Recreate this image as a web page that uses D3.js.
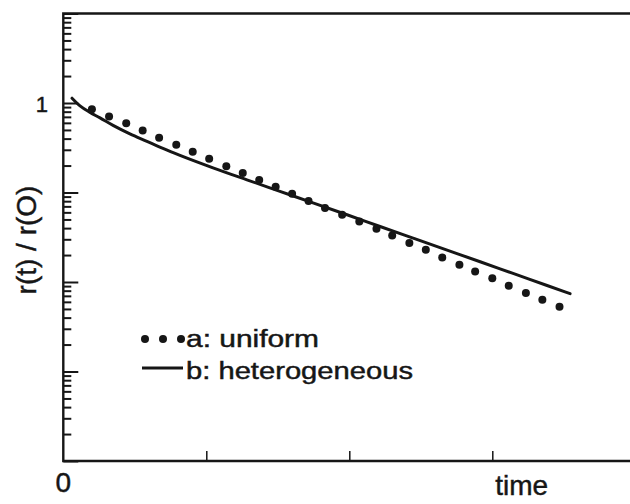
<!DOCTYPE html>
<html>
<head>
<meta charset="utf-8">
<script src="https://cdn.jsdelivr.net/npm/d3@7"></script>
<style>
  html, body { margin: 0; padding: 0; background: #fff; }
  svg { display: block; }
  text { font-family: "Liberation Sans", Arial, Helvetica, sans-serif; fill: #161616; stroke: #161616; stroke-width: 0.45px; }
</style>
</head>
<body>
<div id="chart"></div>
<script>
// series a: uniform (dotted)
const uniformT = [0.20, 0.32, 0.44, 0.555, 0.67, 0.79, 0.905, 1.02, 1.14, 1.255, 1.37, 1.485, 1.60, 1.715,
    1.83, 1.95, 2.07, 2.19, 2.30, 2.42, 2.535, 2.65, 2.77, 2.88, 3.00, 3.115, 3.235, 3.35, 3.47];
const uniformR = [0.853, 0.705, 0.595, 0.492, 0.408, 0.341, 0.285, 0.238, 0.197, 0.165, 0.1375, 0.116, 0.0967, 0.0802,
    0.0671, 0.0564, 0.0475, 0.0393, 0.0331, 0.0272, 0.0229, 0.0188, 0.0156, 0.0131, 0.011, 0.0091, 0.00754, 0.00635, 0.0053];

// series b: heterogeneous (solid)
const heteroT = [0.061, 0.117, 0.187, 0.257, 0.348, 0.466, 0.585, 0.697, 0.816, 1.047, 1.284, 1.515, 1.746,
    1.984, 2.215, 2.446, 2.684, 2.915, 3.145, 3.383, 3.544];
const heteroR = [1.131, 0.928, 0.785, 0.682, 0.562, 0.452, 0.373, 0.311, 0.260, 0.1887, 0.1386, 0.1031, 0.0767,
    0.0564, 0.0417, 0.0309, 0.0227, 0.01685, 0.01247, 0.00914, 0.0074];

const xTicks = [1, 2, 3];
const xLabels = ["0"];
const yLabels = [1];
const legendLabels = ["a: uniform", "b: heterogeneous"];

const W = 630, H = 504;
const ink = "#161616";

const svg = d3.select('#chart').append('svg')
    .attr('width', W)
    .attr('height', H);

const x = d3.scaleLinear().domain([0, 4]).range([63.3, 635.3]);
const y = d3.scaleLog().domain([1e-4, 10]).range([461, 13.5]);

// minor / major log ticks (inward)
const allTicks = y.ticks();
const isMajor = d => Math.abs(Math.log10(d) - Math.round(Math.log10(d))) < 1e-9;

const minorAxis = svg.append('g')
    .attr('transform', `translate(${x(0)},0)`)
    .call(d3.axisRight(y).tickValues(allTicks.filter(d => !isMajor(d))).tickSize(8).tickFormat(''));
const majorAxis = svg.append('g')
    .attr('transform', `translate(${x(0)},0)`)
    .call(d3.axisRight(y).tickValues(allTicks.filter(isMajor)).tickSize(15).tickFormat(''));
[minorAxis, majorAxis].forEach(g => {
    g.select('.domain').remove();
    g.selectAll('line').attr('stroke', ink).attr('stroke-width', 2);
});

const xAxis = svg.append('g')
    .attr('transform', `translate(0,${y(1e-4)})`)
    .call(d3.axisTop(x).tickValues(xTicks).tickSize(10).tickFormat(''));
xAxis.select('.domain').remove();
xAxis.selectAll('line').attr('stroke', ink).attr('stroke-width', 1.5);

// frame (right side falls outside the picture)
svg.append('path')
    .attr('d', `M${x(4)},${y(10)}H${x(0)}V${y(1e-4)}H${x(4)}`)
    .attr('fill', 'none')
    .attr('stroke', ink)
    .attr('stroke-width', 2.4);

// tick labels
svg.append('text')
    .attr('x', x(0))
    .attr('y', 492)
    .attr('text-anchor', 'middle')
    .style('font-size', '28px')
    .text(xLabels[0]);

svg.selectAll('.ylab')
    .data(yLabels)
    .enter().append('text')
    .attr('class', 'ylab')
    .attr('x', 48)
    .attr('y', d => y(d) + 9)
    .attr('text-anchor', 'end')
    .style('font-size', '22px')
    .text(d => d);

// axis titles
svg.append('text')
    .attr('x', x(3) + 3)
    .attr('y', 495)
    .style('font-size', '28px')
    .text('time');

svg.append('text')
    .attr('transform', 'translate(36,240) rotate(-90)')
    .attr('text-anchor', 'middle')
    .style('font-size', '28px')
    .text('r(t) / r(O)');

// series b
const heteroData = heteroT.map((t, i) => ({ t, r: heteroR[i] }));
svg.append('path')
    .datum(heteroData)
    .attr('fill', 'none')
    .attr('stroke', ink)
    .attr('stroke-width', 3)
    .attr('stroke-linecap', 'round')
    .attr('d', d3.line().curve(d3.curveMonotoneX).x(d => x(d.t)).y(d => y(d.r)));

// series a
const uniformData = uniformT.map((t, i) => ({ t, r: uniformR[i] }));
svg.selectAll('.dot')
    .data(uniformData)
    .enter().append('circle')
    .attr('class', 'dot')
    .attr('cx', d => x(d.t))
    .attr('cy', d => y(d.r))
    .attr('r', 4)
    .attr('fill', ink);

// legend
const legend = svg.append('g');
legend.selectAll('circle')
    .data([145, 163, 181])
    .enter().append('circle')
    .attr('cx', d => d)
    .attr('cy', 339)
    .attr('r', 4)
    .attr('fill', ink);
legend.append('line')
    .attr('x1', 142).attr('x2', 183)
    .attr('y1', 368).attr('y2', 368)
    .attr('stroke', ink)
    .attr('stroke-width', 3);
legend.selectAll('text')
    .data(legendLabels)
    .enter().append('text')
    .attr('x', 186)
    .attr('y', (d, i) => 347 + i * 32)
    .attr('textLength', (d, i) => i === 0 ? 133 : 227)
    .attr('lengthAdjust', 'spacingAndGlyphs')
    .style('font-size', '23px')
    .text(d => d);
</script>
</body>
</html>
